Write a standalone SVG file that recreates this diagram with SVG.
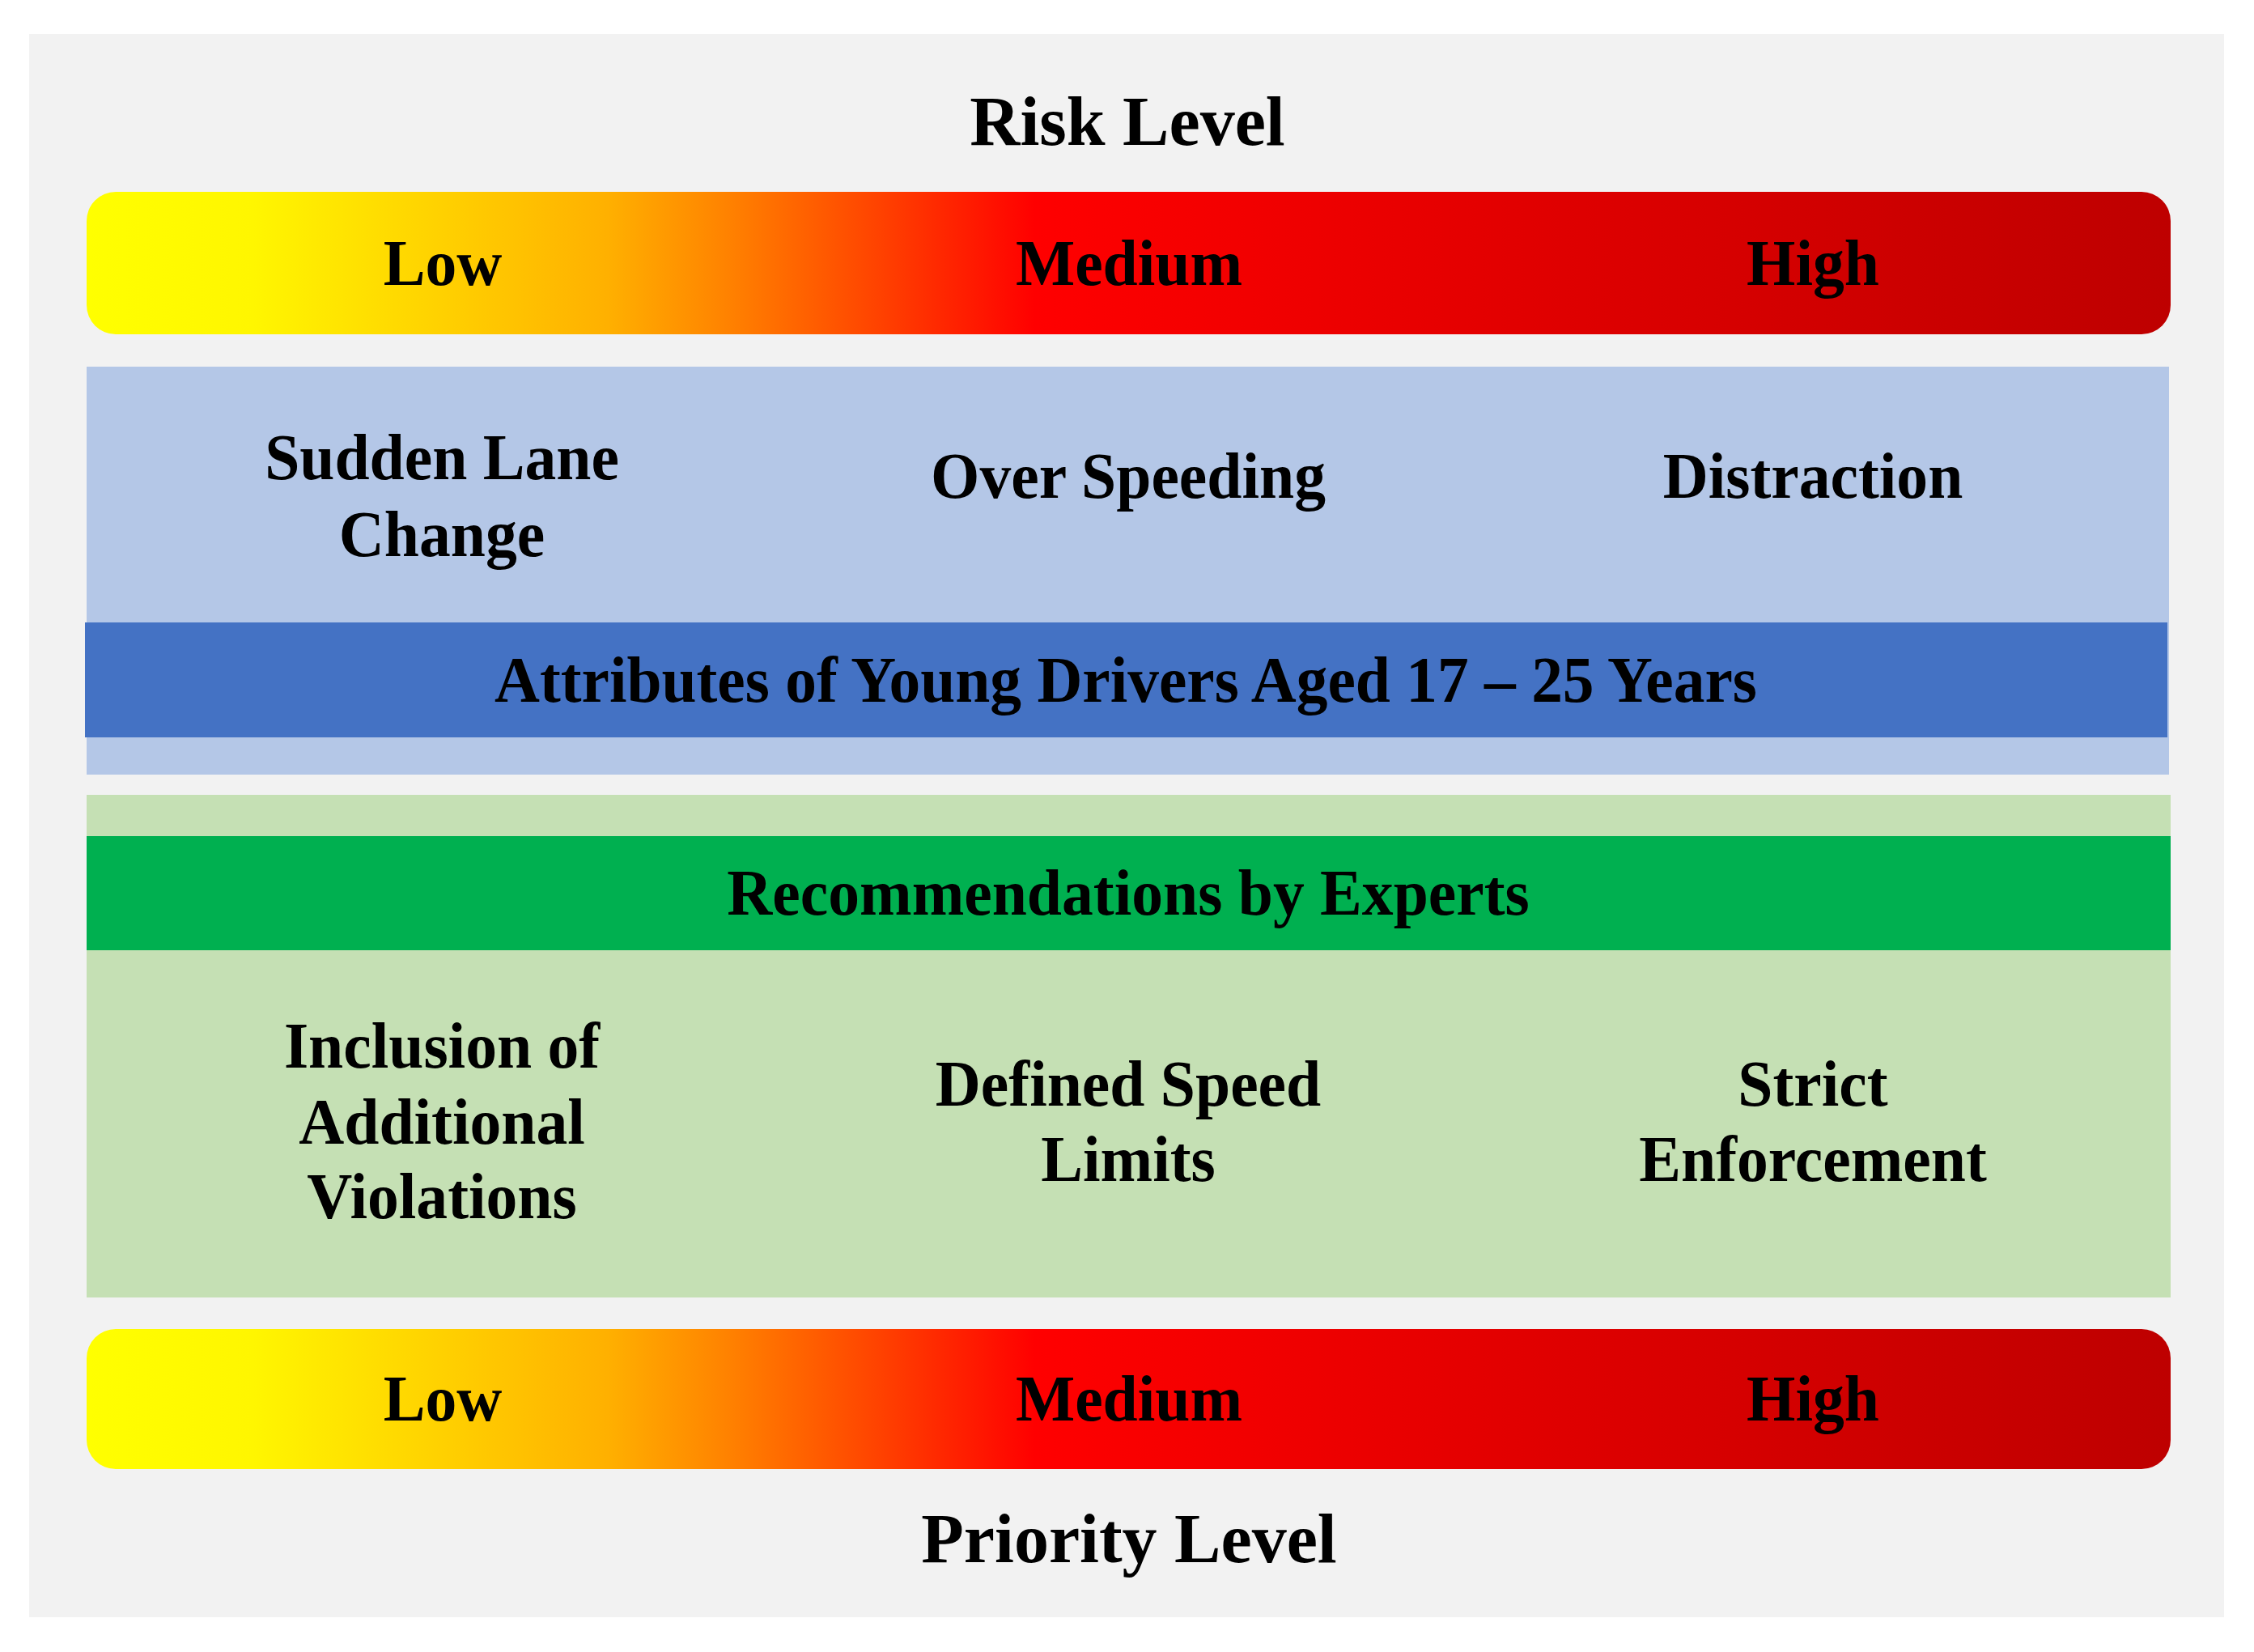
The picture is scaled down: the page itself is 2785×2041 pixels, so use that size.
<svg xmlns="http://www.w3.org/2000/svg" width="2785" height="2041" viewBox="0 0 2785 2041">
  <defs>
    <linearGradient id="heat" x1="0" y1="0" x2="1" y2="0">
      <stop offset="0" stop-color="#FFFF00"/>
      <stop offset="0.08" stop-color="#FFF600"/>
      <stop offset="0.25" stop-color="#FFB000"/>
      <stop offset="0.31" stop-color="#FF8000"/>
      <stop offset="0.455" stop-color="#FF0000"/>
      <stop offset="0.7" stop-color="#E00000"/>
      <stop offset="1" stop-color="#BE0000"/>
    </linearGradient>
    <style>
      text { font-family: "Liberation Serif", "Times New Roman", serif; font-weight: bold; fill: #000; text-anchor: middle; }
      .title { font-size: 86px; }
      .lbl { font-size: 80px; }
      .bar { fill: url(#heat); }
    </style>
  </defs>
  <rect x="0" y="0" width="2785" height="2041" fill="#FFFFFF"/>
  <rect id="background" x="36" y="42" width="2712" height="1956" fill="#F2F2F2"/>

  <g id="risk-title">
    <text class="title" x="1393" y="179">Risk Level</text>
  </g>

  <g id="risk-bar">
    <rect class="bar" x="107" y="237" width="2575" height="176" rx="36" ry="36"/>
    <text class="lbl" transform="translate(547,352) scale(0.97,1)">Low</text>
    <text class="lbl" transform="translate(1395,352) scale(0.97,1)">Medium</text>
    <text class="lbl" transform="translate(2240,352) scale(0.97,1)">High</text>
  </g>

  <g id="attributes-panel">
    <rect x="107" y="453" width="2573" height="504" fill="#B4C7E7"/>
    <text class="lbl" transform="translate(546,592) scale(0.97,1)"><tspan x="0" y="0">Sudden Lane</tspan><tspan x="0" y="95">Change</tspan></text>
    <text class="lbl" transform="translate(1394,615) scale(0.97,1)">Over Speeding</text>
    <text class="lbl" transform="translate(2240,615) scale(0.97,1)">Distraction</text>
  </g>

  <g id="attributes-header">
    <rect x="105" y="769" width="2573" height="142" fill="#4472C4"/>
    <text class="lbl" transform="translate(1391,867) scale(0.968,1)">Attributes of Young Drivers Aged 17 – 25 Years</text>
  </g>

  <g id="recommendations-panel">
    <rect x="107" y="982" width="2575" height="621" fill="#C5E0B4"/>
    <text class="lbl" transform="translate(546,1319) scale(0.97,1)"><tspan x="0" y="0">Inclusion of</tspan><tspan x="0" y="94">Additional</tspan><tspan x="0" y="186">Violations</tspan></text>
    <text class="lbl" transform="translate(1394,1366) scale(0.97,1)"><tspan x="0" y="0">Defined Speed</tspan><tspan x="0" y="93">Limits</tspan></text>
    <text class="lbl" transform="translate(2240,1366) scale(0.97,1)"><tspan x="0" y="0">Strict</tspan><tspan x="0" y="93">Enforcement</tspan></text>
  </g>

  <g id="recommendations-header">
    <rect x="107" y="1033" width="2575" height="141" fill="#00B050"/>
    <text class="lbl" transform="translate(1394,1130) scale(0.97,1)">Recommendations by Experts</text>
  </g>

  <g id="priority-bar">
    <rect class="bar" x="107" y="1642" width="2575" height="173" rx="36" ry="36"/>
    <text class="lbl" transform="translate(547,1755) scale(0.97,1)">Low</text>
    <text class="lbl" transform="translate(1395,1755) scale(0.97,1)">Medium</text>
    <text class="lbl" transform="translate(2240,1755) scale(0.97,1)">High</text>
  </g>

  <g id="priority-title">
    <text class="title" x="1395" y="1930">Priority Level</text>
  </g>

  <g id="connectors"></g>
</svg>
